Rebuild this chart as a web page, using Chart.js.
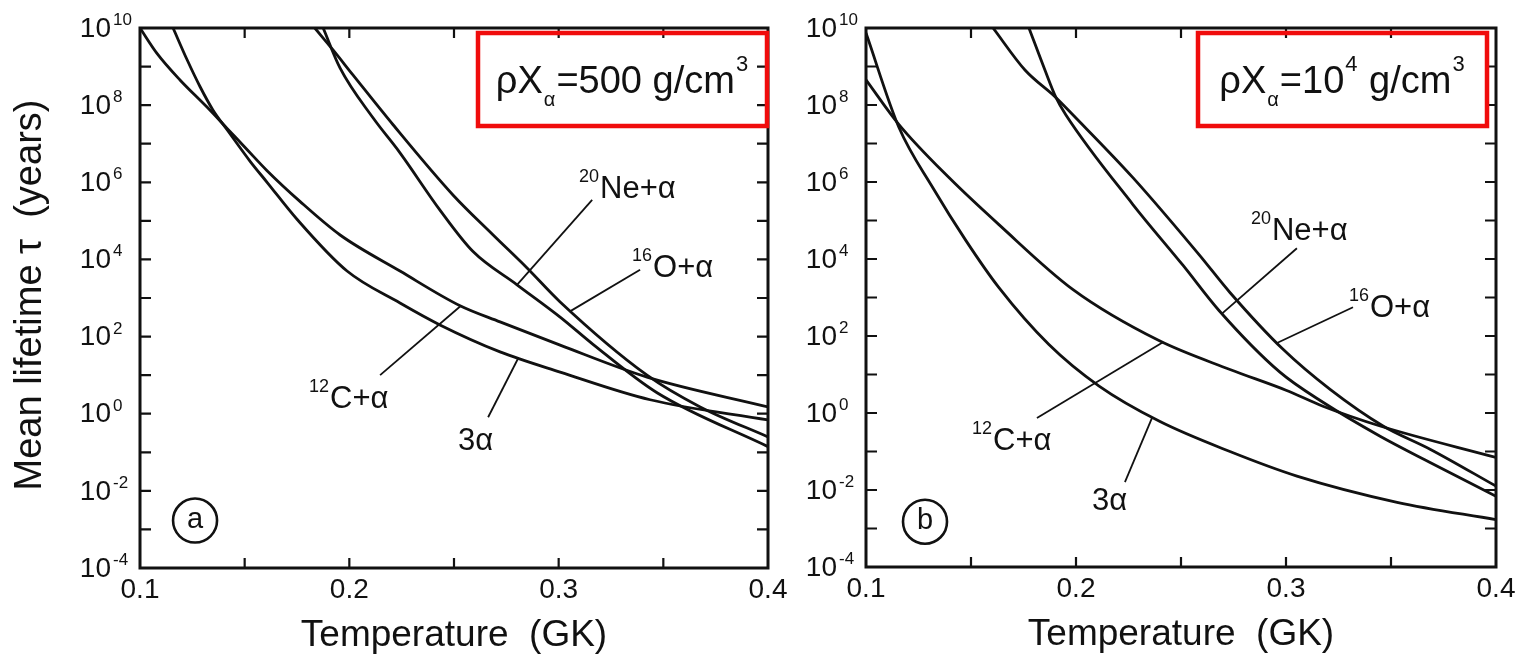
<!DOCTYPE html>
<html>
<head>
<meta charset="utf-8">
<script src="https://cdn.jsdelivr.net/npm/chart.js@4.4.1/dist/chart.umd.min.js"></script>
<style>
  html, body { margin: 0; padding: 0; background: #fff; }
  #wrap { position: relative; width: 1522px; height: 659px; overflow: hidden; }
  canvas { position: absolute; top: 0; }
</style>
</head>
<body>
<div id="wrap">
  <canvas id="panelA" width="790" height="659" style="left:0"></canvas>
  <canvas id="panelB" width="732" height="659" style="left:790px"></canvas>
</div>
<script>
// Temperature (GK) vs mean lifetime (years)

// (a) rho*X_alpha = 500 g/cm3
const tempA_3a   = [0.1158, 0.1225, 0.1287, 0.1349, 0.1416, 0.1526, 0.1607, 0.175, 0.1989, 0.2242, 0.2433, 0.272, 0.3007, 0.3437, 0.4];
const tauA_3a    = [1e10, 1.5e9, 3e8, 7.4e7, 2.3e7, 3.5e6, 1e6, 1.1e5, 5.0e3, 7.4e2, 2.0e2, 40, 12, 2.3, 0.69];
const tempA_12C  = [0.1, 0.1081, 0.1191, 0.132, 0.1416, 0.1511, 0.1607, 0.1764, 0.1956, 0.2242, 0.2529, 0.272, 0.3007, 0.3422, 0.4];
const tauA_12C   = [1e10, 2.2e9, 4.5e8, 8.9e7, 2.5e7, 7.1e6, 2e6, 3.2e5, 4.3e4, 5.0e3, 6.3e2, 2.4e2, 60, 8.9, 1.5];
const tempA_16O  = [0.1835, 0.1922, 0.2018, 0.2209, 0.2495, 0.2687, 0.2849, 0.3007, 0.3422, 0.3676, 0.4];
const tauA_16O   = [1e10, 2.7e9, 6e8, 3.1e7, 4.7e5, 4.3e4, 6e3, 7.9e2, 10, 1.5, 0.25];
const tempA_20Ne = [0.1875, 0.1956, 0.2113, 0.2242, 0.2433, 0.2591, 0.2801, 0.3007, 0.3164, 0.347, 0.4];
const tauA_20Ne  = [1e10, 9.1e8, 4.7e7, 5.8e6, 1.9e5, 1.6e4, 2.2e3, 3.2e2, 63, 3.5, 0.14];

// (b) rho*X_alpha = 1e4 g/cm3
const tempB_3a   = [0.1, 0.1157, 0.1319, 0.1476, 0.1633, 0.1871, 0.211, 0.24, 0.2733, 0.3052, 0.3529, 0.4];
const tauB_3a    = [7.4e9, 2.6e7, 7e5, 3e4, 1.8e3, 60, 5.0, 0.6, 0.1, 0.023, 4.8e-3, 1.7e-3];
const tempB_12C  = [0.1, 0.1157, 0.1395, 0.1633, 0.1986, 0.2395, 0.2733, 0.3, 0.3176, 0.3448, 0.4];
const tauB_12C   = [4.5e8, 3.1e7, 1.3e6, 7.8e4, 1.6e3, 76, 13.5, 3.9, 1.5, 0.46, 0.07];
const tempB_16O  = [0.1605, 0.1757, 0.1905, 0.1986, 0.2271, 0.2586, 0.2733, 0.2986, 0.321, 0.3462, 0.3686, 0.4];
const tauB_16O   = [1e10, 8.1e8, 1.55e8, 5.5e7, 1.3e6, 1.3e4, 1.35e3, 45, 4.1, 0.46, 0.115, 0.0126];
const tempB_20Ne = [0.1776, 0.1852, 0.1905, 0.1952, 0.2271, 0.251, 0.2681, 0.2971, 0.3176, 0.3448, 0.3686, 0.4];
const tauB_20Ne  = [1e10, 8.1e8, 1.55e8, 5.5e7, 2.6e5, 6.8e3, 4.6e2, 11.5, 1.9, 0.25, 0.052, 6.9e-3];

// axes
const xLabelTicks = [0.1, 0.2, 0.3, 0.4];
const xTickLabels = ['0.1', '0.2', '0.3', '0.4'];
const xMinorTicks = [0.15, 0.2, 0.25, 0.3, 0.35];
const yDecades    = [10, 9, 8, 7, 6, 5, 4, 3, 2, 1, 0, -1, -2, -3, -4];
const yLabelExps  = [10, 8, 6, 4, 2, 0, -2, -4];

const FONT = '"Liberation Sans", Arial, Helvetica, sans-serif';
const INK = '#111';
const RED = 'rgb(240,12,12)';

// annotations: text anchors and leader lines in data coordinates (T, tau)
const panels = {
  panelA: {
    tag: 'a', tagAt: [0.1263, 1.7e-3],
    boxRight: 1, boxWidth: 289,
    boxText: [['ρX', 'n'], ['α', 'sub'], ['=500 g/cm', 'n'], ['3', 'sup']],
    yTitle: true,
    labels: [
      { sup: '20', text: 'Ne+α', at: [0.3198, 3.9e5], from: [0.316, 3.5e5], to: [0.2801, 2.2e3] },
      { sup: '16', text: 'O+α',  at: [0.3451, 3.5e3], from: [0.3389, 5.4e3], to: [0.3054, 4.5e2] },
      { sup: '12', text: 'C+α',  at: [0.1908, 1.4],   from: [0.2147, 10],    to: [0.2529, 6e2] },
      { sup: '',   text: '3α',   at: [0.2519, 0.115], from: [0.2663, 0.81],  to: [0.2806, 27] }
    ]
  },
  panelB: {
    tag: 'b', tagAt: [0.1281, 1.5e-3],
    boxRight: 9, boxWidth: 289,
    boxText: [['ρX', 'n'], ['α', 'sub'], ['=10', 'n'], ['4', 'sup'], [' g/cm', 'n'], ['3', 'sup']],
    yTitle: false,
    labels: [
      { sup: '20', text: 'Ne+α', at: [0.2933, 3.1e4], from: [0.3052, 1.9e4], to: [0.2695, 3.8e2] },
      { sup: '16', text: 'O+α',  at: [0.34, 3.1e2],   from: [0.3319, 5.6e2], to: [0.2957, 66] },
      { sup: '12', text: 'C+α',  at: [0.1605, 0.11],  from: [0.1814, 0.74],  to: [0.2414, 69] },
      { sup: '',   text: '3α',   at: [0.2076, 3e-3],  from: [0.2233, 0.016], to: [0.2362, 0.75] }
    ]
  }
};

function pts(ts, vs) {
  return ts.map((t, i) => ({ x: t, y: vs[i] }));
}

function px(chart, p) {
  return [chart.scales.x.getPixelForValue(p[0]), chart.scales.y.getPixelForValue(p[1])];
}

function font(size) { return size + 'px ' + FONT; }

const framePlugin = {
  id: 'frame',
  afterDraw(chart) {
    const cfg = panels[chart.canvas.id];
    const ctx = chart.ctx, a = chart.chartArea;
    const xs = chart.scales.x, ys = chart.scales.y;
    ctx.save();
    ctx.strokeStyle = INK;
    ctx.fillStyle = INK;

    // inward ticks on all four sides
    ctx.lineWidth = 2.2;
    ctx.beginPath();
    yDecades.forEach(e => {
      const y = ys.getPixelForValue(Math.pow(10, e));
      ctx.moveTo(a.left, y); ctx.lineTo(a.left + 11, y);
      ctx.moveTo(a.right, y); ctx.lineTo(a.right - 11, y);
    });
    xMinorTicks.forEach(t => {
      const x = xs.getPixelForValue(t);
      ctx.moveTo(x, a.bottom); ctx.lineTo(x, a.bottom - 10);
      ctx.moveTo(x, a.top); ctx.lineTo(x, a.top + 10);
    });
    ctx.stroke();

    ctx.lineWidth = 3;
    ctx.strokeRect(a.left, a.top, a.right - a.left, a.bottom - a.top);

    // tick labels
    ctx.font = font(28);
    ctx.textAlign = 'center';
    ctx.textBaseline = 'middle';
    xLabelTicks.forEach((t, i) => {
      ctx.fillText(xTickLabels[i], xs.getPixelForValue(t), a.bottom + 22);
    });
    yLabelExps.forEach(e => {
      const y = ys.getPixelForValue(Math.pow(10, e));
      ctx.font = font(28);
      ctx.textAlign = 'right';
      ctx.textBaseline = 'middle';
      ctx.fillText('10', a.left - 29, y + 1);
      ctx.font = font(17);
      ctx.textAlign = 'left';
      ctx.textBaseline = 'alphabetic';
      ctx.fillText(String(e), a.left - 27, y - 3);
    });

    // axis titles
    ctx.font = font(37);
    ctx.textAlign = 'center';
    ctx.textBaseline = 'middle';
    ctx.fillText('Temperature  (GK)', (a.left + a.right) / 2, a.bottom + 68);
    if (cfg.yTitle) {
      ctx.save();
      ctx.translate(31, (a.top + a.bottom) / 2 - 3);
      ctx.rotate(-Math.PI / 2);
      ctx.font = font(38);
      ctx.fillText('Mean lifetime τ  (years)', 0, 0);
      ctx.restore();
    }

    // curve labels with leader lines
    ctx.lineWidth = 1.8;
    cfg.labels.forEach(l => {
      const f = px(chart, l.from), t = px(chart, l.to), p = px(chart, l.at);
      ctx.beginPath();
      ctx.moveTo(f[0], f[1]);
      ctx.lineTo(t[0], t[1]);
      ctx.stroke();
      ctx.font = font(31);
      ctx.textAlign = 'left';
      ctx.textBaseline = 'alphabetic';
      ctx.fillText(l.text, p[0], p[1]);
      if (l.sup) {
        ctx.font = font(18);
        ctx.textAlign = 'right';
        ctx.fillText(l.sup, p[0] - 1, p[1] - 16);
      }
    });

    // circled panel tag
    const c = px(chart, cfg.tagAt);
    ctx.lineWidth = 2.6;
    ctx.beginPath();
    ctx.arc(c[0], c[1], 22, 0, Math.PI * 2);
    ctx.stroke();
    ctx.font = font(29);
    ctx.textAlign = 'center';
    ctx.textBaseline = 'middle';
    ctx.fillText(cfg.tag, c[0], c[1] - 1);

    // red box with density
    const bx = a.right - cfg.boxRight - cfg.boxWidth, by = a.top + 5, bh = 93;
    ctx.strokeStyle = RED;
    ctx.lineWidth = 4.5;
    ctx.strokeRect(bx, by, cfg.boxWidth, bh);
    const sizes = { n: 38, sub: 20, sup: 22 };
    let total = 0;
    cfg.boxText.forEach(([s, k]) => { ctx.font = font(sizes[k]); total += ctx.measureText(s).width + (k === 'n' ? 0 : 2); });
    let x = bx + cfg.boxWidth / 2 - total / 2;
    const base = by + 60;
    ctx.textAlign = 'left';
    ctx.textBaseline = 'alphabetic';
    ctx.fillStyle = INK;
    cfg.boxText.forEach(([s, k]) => {
      ctx.font = font(sizes[k]);
      const dy = k === 'sub' ? 13 : (k === 'sup' ? -22 : 0);
      const dx = k === 'n' ? 0 : 1;
      ctx.fillText(s, x + dx, base + dy);
      x += ctx.measureText(s).width + (k === 'n' ? 0 : 2);
    });
    ctx.restore();
  }
};

function makeChart(id, series, padding) {
  const datasets = series.map(([ts, vs]) => ({
    data: pts(ts, vs),
    borderColor: INK,
    borderWidth: 2.8,
    pointRadius: 0,
    fill: false,
    cubicInterpolationMode: 'monotone'
  }));
  return new Chart(document.getElementById(id), {
    type: 'line',
    data: { datasets: datasets },
    options: {
      responsive: false,
      animation: false,
      devicePixelRatio: 1,
      layout: { padding: padding },
      plugins: { legend: { display: false }, tooltip: { enabled: false } },
      scales: {
        x: { type: 'linear', min: 0.1, max: 0.4, display: false },
        y: { type: 'logarithmic', min: 1e-4, max: 1e10, display: false }
      }
    },
    plugins: [framePlugin]
  });
}

makeChart('panelA', [
  [tempA_3a, tauA_3a], [tempA_12C, tauA_12C], [tempA_16O, tauA_16O], [tempA_20Ne, tauA_20Ne]
], { left: 140, right: 22, top: 28, bottom: 91 });

makeChart('panelB', [
  [tempB_3a, tauB_3a], [tempB_12C, tauB_12C], [tempB_16O, tauB_16O], [tempB_20Ne, tauB_20Ne]
], { left: 76, right: 26, top: 28, bottom: 92 });
</script>
</body>
</html>
